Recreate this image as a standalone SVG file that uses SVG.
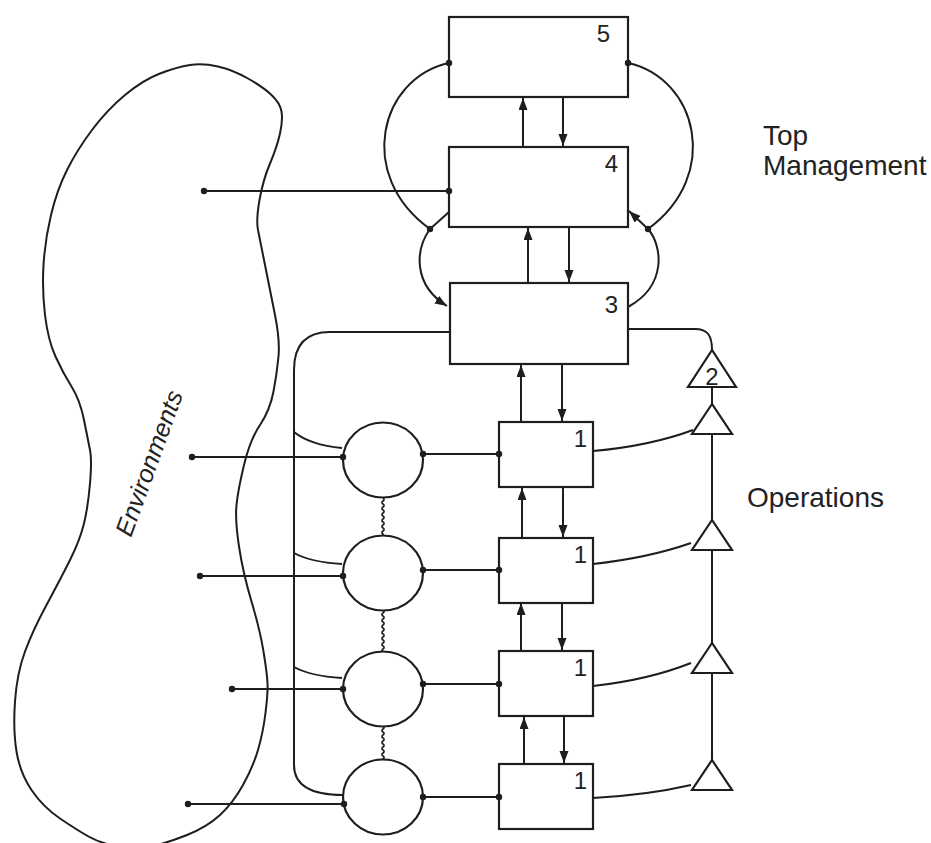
<svg xmlns="http://www.w3.org/2000/svg" width="931" height="843" viewBox="0 0 931 843">
<style>
.ln{fill:none;stroke:#1e1e1e;stroke-width:2}
.bx{fill:#fff;stroke:#1e1e1e;stroke-width:2.2}
.dot{fill:#1e1e1e}
.num{font-family:"Liberation Sans",Arial,sans-serif;font-size:24px;fill:#222}
.lbl{font-family:"Liberation Sans",Arial,sans-serif;font-size:28px;fill:#222}
.arr{fill:none;stroke:#1e1e1e;stroke-width:2;marker-end:url(#ah)}
</style>
<defs>
<marker id="ah" markerUnits="userSpaceOnUse" markerWidth="14" markerHeight="10" refX="12" refY="4.5" orient="auto">
<path d="M0,0 L12,4.5 L0,9 z" fill="#1e1e1e"/>
</marker>
</defs>
<rect width="931" height="843" fill="#fff"/>

<g id="environment">
<path class="ln" d="M190,65 Q203,63 218,66.5 Q233,70 248,78.5 Q263,87 271.5,95 Q280,103 281.5,111.5 Q283,120 280,133.5 Q277,147 270,163.5 Q263,180 259.5,200 Q256,220 258,230 Q260,240 265,265 Q270,290 275,315 Q280,340 278.5,356.5 Q277,373 273.5,391.5 Q270,410 260,425 Q250,440 244,465 Q238,490 236.5,505 Q235,520 239,546.5 Q243,573 251.5,601.5 Q260,630 263.5,651.5 Q267,673 267.5,683 Q268,693 265.5,713 Q263,733 258,750 Q253,767 243,785 Q233,803 220,815 Q207,827 187,835 Q167,843 151,846.5 Q135,850 117.5,846.5 Q100,843 88.5,836.5 Q77,830 60,818.5 Q43,807 31.5,790 Q20,773 16.5,751.5 Q13,730 15,701.5 Q17,673 25,651.5 Q33,630 46.5,605 Q60,580 70,560 Q80,540 84,523.5 Q88,507 90,483.5 Q92,460 90,450 Q88,440 84,420 Q80,400 71.5,386.5 Q63,373 55.5,356.5 Q48,340 45,315 Q42,290 43.5,265 Q45,240 51,215 Q57,190 67,170 Q77,150 92,130 Q107,110 125,95 Q143,80 160,73.5 Q177,67 190,65 Z"/>
<text class="lbl" style="font-size:25px;font-style:italic" transform="translate(131,538) rotate(-70)">Environments</text>
</g>

<g id="connectors">
<!-- vertical arrows -->
<path class="arr" d="M523,147 V98"/>
<path class="arr" d="M563,97 V146"/>
<path class="arr" d="M528,283 V228"/>
<path class="arr" d="M569,227 V282"/>
<path class="arr" d="M521,422 V365"/>
<path class="arr" d="M562,364 V421"/>
<path class="arr" d="M522,538 V488"/>
<path class="arr" d="M563,487 V537"/>
<path class="arr" d="M521,651 V603"/>
<path class="arr" d="M562,603 V650"/>
<path class="arr" d="M524,764 V717"/>
<path class="arr" d="M564,716 V763"/>
<!-- loops around 5,4,3 -->
<path class="ln" d="M449,63 C380,78 355,175 430,229"/>
<path class="ln" d="M430,229 L449,212"/>
<path class="arr" d="M430,229 C415,250 413,285 447,306"/>
<path class="ln" d="M628,63 C697,78 722,175 648,229"/>
<path class="arr" d="M648,229 L629,211"/>
<path class="ln" d="M648,229 C662,245 668,285 628,307"/>
<!-- environment to box 4 -->
<path class="ln" d="M204,191 H449"/>
<!-- box 3 left bus -->
<path class="ln" d="M450,332 H330 Q294,332 294,370 V765 C294,788 315,795 343,795"/>
<path class="ln" d="M294,432 Q310,445 342,448"/>
<path class="ln" d="M294,553 Q310,562 342,564"/>
<path class="ln" d="M294,667 Q310,676 342,678"/>
<!-- box 3 right to triangle 2 -->
<path class="ln" d="M628,329 H695 C708,329 712,336 712,350"/>
<path class="ln" d="M712,387 V404"/>
<path class="ln" d="M712,434 V520 M712,550 V643 M712,673 V760"/>
<!-- boxes 1 to triangles -->
<path class="ln" d="M593,451 Q650,446 693,430"/>
<path class="ln" d="M593,564 Q648,558 691,543"/>
<path class="ln" d="M593,686 Q648,680 691,663"/>
<path class="ln" d="M593,798 Q648,795 691,785"/>
<!-- environment lines to circles -->
<path class="ln" d="M192,457 H343"/>
<path class="ln" d="M200,576 H343"/>
<path class="ln" d="M232,689 H343"/>
<path class="ln" d="M188,804 H344"/>
<!-- circles to boxes 1 -->
<path class="ln" d="M423,454 H499"/>
<path class="ln" d="M423,570 H499"/>
<path class="ln" d="M423,684 H499"/>
<path class="ln" d="M423,797 H499"/>
<!-- squiggles -->
<path class="ln" style="stroke-width:1.6" d="M383,498 q2.2,1.5 0,3 q-2.2,1.5 0,3 q2.2,1.5 0,3 q-2.2,1.5 0,3 q2.2,1.5 0,3 q-2.2,1.5 0,3 q2.2,1.5 0,3 q-2.2,1.5 0,3 q2.2,1.5 0,3 q-2.2,1.5 0,3 q2.2,1.5 0,3 q-2.2,1.5 0,3 l0,1"/>
<path class="ln" style="stroke-width:1.6" d="M383,610 q2.2,1.5 0,3 q-2.2,1.5 0,3 q2.2,1.5 0,3 q-2.2,1.5 0,3 q2.2,1.5 0,3 q-2.2,1.5 0,3 q2.2,1.5 0,3 q-2.2,1.5 0,3 q2.2,1.5 0,3 q-2.2,1.5 0,3 q2.2,1.5 0,3 q-2.2,1.5 0,3 q2.2,1.5 0,3 q-2.2,1.5 0,3 l0,-1"/>
<path class="ln" style="stroke-width:1.6" d="M383,726 q2.2,1.5 0,3 q-2.2,1.5 0,3 q2.2,1.5 0,3 q-2.2,1.5 0,3 q2.2,1.5 0,3 q-2.2,1.5 0,3 q2.2,1.5 0,3 q-2.2,1.5 0,3 q2.2,1.5 0,3 q-2.2,1.5 0,3 q2.2,1.5 0,3 l0,1"/>
</g>

<g id="box5"><rect class="bx" x="449" y="17" width="179" height="80"/><text class="num" x="610" y="42" text-anchor="end">5</text></g>
<g id="box4"><rect class="bx" x="449" y="147" width="179" height="80"/><text class="num" x="618" y="172" text-anchor="end">4</text></g>
<g id="box3"><rect class="bx" x="450" y="283" width="178" height="81"/><text class="num" x="618" y="313" text-anchor="end">3</text></g>
<g id="box1a"><rect class="bx" x="499" y="422" width="94" height="65"/><text class="num" x="587" y="447" text-anchor="end">1</text></g>
<g id="box1b"><rect class="bx" x="499" y="538" width="94" height="65"/><text class="num" x="587" y="563" text-anchor="end">1</text></g>
<g id="box1c"><rect class="bx" x="499" y="651" width="94" height="65"/><text class="num" x="587" y="676" text-anchor="end">1</text></g>
<g id="box1d"><rect class="bx" x="499" y="764" width="94" height="65"/><text class="num" x="587" y="789" text-anchor="end">1</text></g>

<g id="circle1"><ellipse class="bx" cx="383" cy="460" rx="40" ry="37.5"/></g>
<g id="circle2"><ellipse class="bx" cx="383" cy="573" rx="40" ry="37.5"/></g>
<g id="circle3"><ellipse class="bx" cx="383" cy="689" rx="40" ry="37.5"/></g>
<g id="circle4"><ellipse class="bx" cx="383" cy="797" rx="40" ry="37.5"/></g>

<g id="tri2"><polygon class="bx" points="712,350 688,387 736,387"/><text class="num" x="712" y="385" text-anchor="middle">2</text></g>
<g id="tri1a"><polygon class="bx" points="712,404 692,434 732,434"/></g>
<g id="tri1b"><polygon class="bx" points="712,520 692,550 732,550"/></g>
<g id="tri1c"><polygon class="bx" points="712,643 692,673 732,673"/></g>
<g id="tri1d"><polygon class="bx" points="712,760 692,790 732,790"/></g>

<g id="dots">
<circle class="dot" cx="449" cy="63" r="3.2"/>
<circle class="dot" cx="628" cy="63" r="3.2"/>
<circle class="dot" cx="430" cy="229" r="3.2"/>
<circle class="dot" cx="648" cy="229" r="3.2"/>
<circle class="dot" cx="449" cy="191" r="3.2"/>
<circle class="dot" cx="204" cy="191" r="3.2"/>
<circle class="dot" cx="192" cy="457" r="3.2"/>
<circle class="dot" cx="200" cy="576" r="3.2"/>
<circle class="dot" cx="232" cy="689" r="3.2"/>
<circle class="dot" cx="188" cy="804" r="3.2"/>
<circle class="dot" cx="343" cy="457" r="3.2"/>
<circle class="dot" cx="343" cy="576" r="3.2"/>
<circle class="dot" cx="343" cy="689" r="3.2"/>
<circle class="dot" cx="344" cy="804" r="3.2"/>
<circle class="dot" cx="423" cy="454" r="3.2"/>
<circle class="dot" cx="423" cy="570" r="3.2"/>
<circle class="dot" cx="423" cy="684" r="3.2"/>
<circle class="dot" cx="423" cy="797" r="3.2"/>
<circle class="dot" cx="499" cy="454" r="3.2"/>
<circle class="dot" cx="499" cy="570" r="3.2"/>
<circle class="dot" cx="499" cy="684" r="3.2"/>
<circle class="dot" cx="499" cy="797" r="3.2"/>
</g>

<g id="labels">
<text class="lbl" x="763" y="145">Top</text>
<text class="lbl" x="763" y="175">Management</text>
<text class="lbl" x="747" y="507">Operations</text>
</g>
</svg>
